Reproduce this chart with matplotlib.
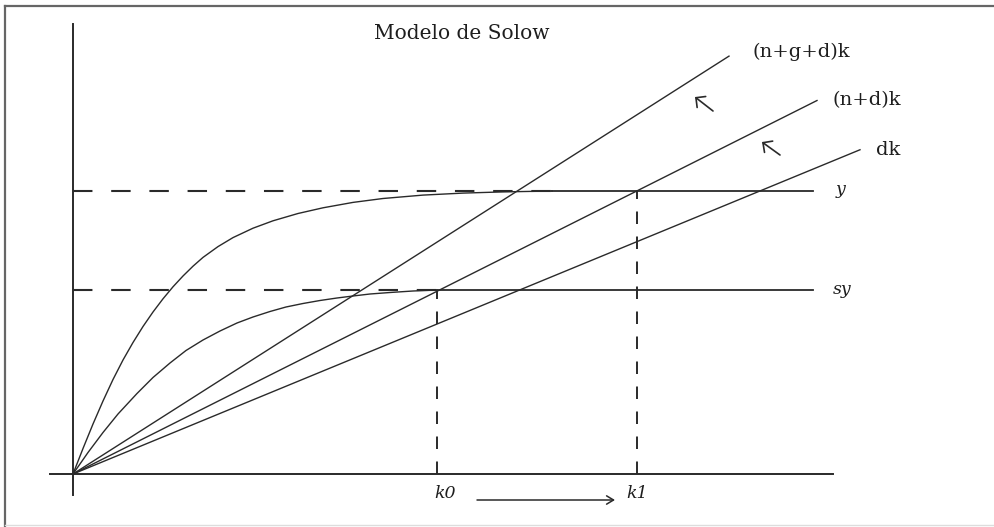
import matplotlib
matplotlib.use("Agg")
import matplotlib.pyplot as plt
from matplotlib.lines import Line2D

plt.rcParams['lines.scale_dashes'] = False

# ---- data (model units: capital k on x, output on y) ----
k_y = [0, 0.1, 0.2, 0.3, 0.4, 0.5, 0.6, 0.7, 0.8, 0.9, 1.0, 1.1, 1.2, 1.3,
       1.45, 1.6, 1.8, 2.0, 2.25, 2.5, 2.8, 3.1, 3.5, 3.9, 4.3, 4.79]
y_vals = [0, 0.255, 0.50, 0.73, 0.945, 1.14, 1.315, 1.475, 1.62, 1.752, 1.872,
          1.98, 2.078, 2.166, 2.274, 2.364, 2.458, 2.532, 2.605, 2.662, 2.716,
          2.755, 2.789, 2.809, 2.821, 2.83]
k_sy = [0, 0.15, 0.3, 0.45, 0.64, 0.8, 0.97, 1.13, 1.30, 1.47, 1.64, 1.8, 1.97,
        2.13, 2.30, 2.47, 2.64, 2.8, 2.97, 3.17, 3.4, 3.64]
sy_vals = [0, 0.215, 0.415, 0.60, 0.805, 0.965, 1.11, 1.235, 1.34, 1.43, 1.51,
           1.57, 1.625, 1.67, 1.705, 1.735, 1.76, 1.78, 1.80, 1.815, 1.83, 1.84]

y_level = 2.83
sy_level = 1.84
k0 = 3.64
k1 = 5.64
k_end_levels = 7.40

line_labels = ["(n+g+d)k", "(n+d)k", "dk"]
line_slopes = [0.637, 0.502, 0.412]
line_k_end = [6.56, 7.44, 7.87]

title = "Modelo de Solow"

# ---- figure ----
fig = plt.figure(figsize=(9.94, 5.27), dpi=100)
ax = fig.add_axes([0, 0, 1, 1])
ax.set_xlim(-0.73, 9.21)
ax.set_ylim(-0.53, 4.74)
ax.axis("off")

ink = "#2a2a2a"
txt = "#1e1e1e"
thin = 1.0

# outer frame (scan border)
fig.add_artist(Line2D([0.005, 0.005], [0.0, 0.989], transform=fig.transFigure,
                      color="#666666", lw=1.6))
fig.add_artist(Line2D([0.005, 1.0], [0.989, 0.989], transform=fig.transFigure,
                      color="#666666", lw=1.6))
fig.add_artist(Line2D([0.005, 1.0], [0.004, 0.004], transform=fig.transFigure,
                      color="#dddddd", lw=1.0))

# axes
ax.plot([0, 0], [-0.21, 4.50], color=ink, lw=1.4)
ax.plot([-0.23, 7.60], [0, 0], color=ink, lw=1.4)

# dashed guides
ax.plot([0, 4.85], [y_level, y_level], color=ink, lw=1.5, dashes=(14, 13.5))
ax.plot([0, k0], [sy_level, sy_level], color=ink, lw=1.5, dashes=(14, 13.5))
ax.plot([k0, k0], [0, sy_level], color=ink, lw=1.4, dashes=(9, 9))
ax.plot([k1, k1], [0, y_level], color=ink, lw=1.4, dashes=(9, 9))

# solid levels
ax.plot([k_y[-1], k_end_levels], [y_level, y_level], color=ink, lw=1.3)
ax.plot([k0, k_end_levels], [sy_level, sy_level], color=ink, lw=1.3)

# curves
ax.plot(k_y, y_vals, color=ink, lw=thin, solid_joinstyle="round")
ax.plot(k_sy, sy_vals, color=ink, lw=thin, solid_joinstyle="round")

# rays from origin
for s, ke in zip(line_slopes, line_k_end):
    ax.plot([0, ke], [0, s * ke], color=ink, lw=thin)

# labels
serif = "DejaVu Serif"
ax.text(3.89, 4.41, title, ha="center", va="center", family=serif,
        fontsize=14.5, color=txt)
ax.text(6.79, 4.22, line_labels[0], ha="left", va="center", family=serif,
        fontsize=14, color=txt)
ax.text(7.60, 3.74, line_labels[1], ha="left", va="center", family=serif,
        fontsize=14, color=txt)
ax.text(8.03, 3.24, line_labels[2], ha="left", va="center", family=serif,
        fontsize=14, color=txt)
ax.text(7.63, 2.85, "y", ha="left", va="center", family=serif, style="italic",
        fontsize=12.5, color=txt)
ax.text(7.60, 1.84, "sy", ha="left", va="center", family=serif, style="italic",
        fontsize=12.5, color=txt)
ax.text(k0 + 0.08, -0.19, "k0", ha="center", va="center", family=serif,
        style="italic", fontsize=12.5, color=txt)
ax.text(k1, -0.19, "k1", ha="center", va="center", family=serif,
        style="italic", fontsize=12.5, color=txt)

# shift arrows
arrow_kw = dict(arrowstyle="->,head_length=0.5,head_width=0.5", color=ink, lw=1.2,
                shrinkA=0, shrinkB=0)
ax.annotate("", xy=(6.22, 3.77), xytext=(6.40, 3.63), arrowprops=arrow_kw)
ax.annotate("", xy=(6.89, 3.32), xytext=(7.07, 3.19), arrowprops=arrow_kw)
ax.annotate("", xy=(5.42, -0.26), xytext=(4.04, -0.26),
            arrowprops=dict(arrowstyle="->,head_length=0.5,head_width=0.3",
                            color=ink, lw=1.1, shrinkA=0, shrinkB=0))

fig.savefig("out.png", dpi=100)
